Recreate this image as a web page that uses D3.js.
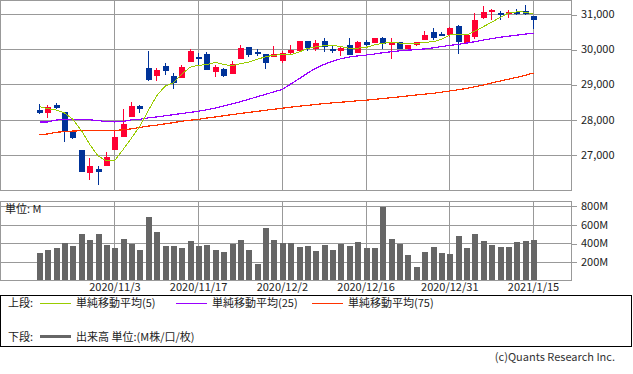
<!DOCTYPE html>
<html>
<head>
<meta charset="utf-8">
<script src="https://cdn.jsdelivr.net/npm/d3@7/dist/d3.min.js"></script>
<style>
    body { margin: 0; background: #fff; }
    text { font-family: "Noto Sans CJK JP", "Noto Sans", sans-serif; }
</style>
</head>
<body>
<div id="chart-container"></div>
<script>
// Trading days (one slot per candle)
var dates = ["2020/10/21","2020/10/22","2020/10/23","2020/10/26","2020/10/27","2020/10/28","2020/10/29","2020/10/30",
    "2020/11/2","2020/11/3","2020/11/4","2020/11/5","2020/11/6","2020/11/9","2020/11/10","2020/11/11","2020/11/12",
    "2020/11/13","2020/11/16","2020/11/17","2020/11/18","2020/11/19","2020/11/20","2020/11/23","2020/11/24","2020/11/25",
    "2020/11/27","2020/11/30","2020/12/1","2020/12/2","2020/12/3","2020/12/4","2020/12/7","2020/12/8","2020/12/9",
    "2020/12/10","2020/12/11","2020/12/14","2020/12/15","2020/12/16","2020/12/17","2020/12/18","2020/12/21","2020/12/22",
    "2020/12/23","2020/12/24","2020/12/28","2020/12/29","2020/12/30","2020/12/31","2021/1/4","2021/1/5","2021/1/6",
    "2021/1/7","2021/1/8","2021/1/11","2021/1/12","2021/1/13","2021/1/14","2021/1/15"];

var openP = [28282,28179,28423,28207,27671,27126,26487,26590,26684,27135,27502,28066,28382,29467,29238,29524,29229,29191,29648,29790,
    29867,29353,29438,29305,29724,30067,29933,29867,29790,29667,29886,29962,30228,30000,30228,30010,29952,30124,29905,30219,
    30181,30324,30133,30209,30019,30133,30276,30486,30438,30400,30657,30181,30362,30895,31076,31029,31009,31060,31095,30933];
var highP = [28451,28423,28460,28215,27718,27126,26900,26684,27069,27671,28310,28508,28429,29952,29476,29619,29324,29562,30000,29886,
    29933,29543,29476,29667,30124,30067,30010,29867,30095,29962,30133,30240,30228,30267,30324,30095,30060,30324,30238,30250,
    30333,30362,30333,30209,30133,30209,30524,30600,30495,30620,30695,30420,31029,31219,31143,31095,31114,31143,31247,30933];
var lowP = [28160,28038,28290,27361,27436,26515,26289,26148,26684,27135,27502,28066,28200,29096,29096,29257,28877,29191,29648,29553,
    29419,29219,29219,29305,29724,29791,29810,29448,29790,29600,29867,29962,29962,29962,29933,29886,29819,29848,29905,30100,
    30181,30019,29724,30000,30000,30086,30276,30276,30381,30362,29876,30162,30305,30857,30819,30828,30885,30981,30962,30581];
var closeP = [28197,28367,28320,27662,27474,26515,26684,26524,26947,27502,27868,28395,28296,29124,29410,29391,29048,29496,29952,29762,
    29419,29486,29248,29572,30029,29838,29905,29619,29867,29905,29981,30228,30048,30190,30057,29995,30048,29848,30209,30133,
    30324,30162,30200,30000,30133,30200,30419,30333,30419,30609,30219,30400,30838,31067,31124,31000,31067,31045,31000,30819];

// Moving averages (5, 25, 75 days)
var ma5 = [28367,28310,28273,28188,28009,27690,27295,26966,26830,26840,27154,27480,27820,28260,28680,28950,29050,29295,29490,29545,
    29565,29630,29565,29535,29590,29635,29715,29785,29835,29840,29840,29920,30020,30070,30100,30115,30073,30029,30032,30050,
    30128,30165,30205,30177,30170,30160,30200,30212,30280,30405,30407,30406,30512,30642,30768,30903,31028,31061,31058,30996];
var ma25 = [27935,27935,27990,28000,28000,28000,27995,27975,27940,27935,27950,27995,28010,28050,28076,28110,28140,28175,28205,28240,
    28280,28330,28390,28450,28510,28580,28650,28720,28790,28860,29010,29160,29320,29460,29570,29660,29730,29780,29810,29835,
    29865,29900,29930,29955,29975,29990,30010,30040,30075,30110,30140,30175,30215,30260,30300,30340,30370,30400,30430,30455];
var ma75 = [27565,27595,27640,27660,27675,27685,27688,27690,27690,27695,27710,27740,27780,27815,27845,27880,27915,27955,27985,28010,
    28045,28075,28110,28144,28175,28205,28235,28267,28295,28325,28355,28382,28405,28430,28455,28477,28495,28515,28535,28553,
    28575,28600,28625,28648,28675,28700,28725,28745,28780,28815,28850,28886,28935,28981,29040,29096,29150,29200,29260,29324];

// Volume in millions
var volume = [296,328,349,403,371,500,435,500,382,349,446,392,328,683,522,371,371,349,425,371,
    382,328,306,392,435,328,177,565,435,403,403,360,371,317,382,328,392,371,414,349,
    349,790,446,392,274,145,306,360,296,285,478,349,500,425,382,360,360,414,425,435];

var xTickLabels = ["2020/11/3","2020/11/17","2020/12/2","2020/12/16","2020/12/31","2021/1/15"];
var priceTicks = [27000, 28000, 29000, 30000, 31000];
var volumeTicks = [200, 400, 600, 800];

var legendItems = [
    {label: "単純移動平均(5)", color: "#99cc00"},
    {label: "単純移動平均(25)", color: "#9900ff"},
    {label: "単純移動平均(75)", color: "#ff3300"}
];

var upColor = "#ff0033",
    downColor = "#003399",
    gridColor = "#999999",
    textColor = "#222222";

createChart();

function createChart() {
    var width = 633, height = 374;
    var plotRight = 571;
    var price = {top: 0, bottom: 190};
    var vol = {top: 201, bottom: 280};

    var svg = d3.select("#chart-container")
        .append("svg")
        .attr("width", width)
        .attr("height", height)
        .style("display", "block");

    var data = dates.map(function(d, i) {
        return {date: d, open: openP[i], high: highP[i], low: lowP[i], close: closeP[i],
            volume: volume[i], ma5: ma5[i], ma25: ma25[i], ma75: ma75[i]};
    });

    // Scales
    var x = d3.scalePoint()
        .domain(dates)
        .range([39, 533]);

    var y = d3.scaleLinear()
        .domain([26000, 31400])
        .range([price.bottom, price.top]);

    var yVol = d3.scaleLinear()
        .domain([0, 852])
        .range([vol.bottom + 0.5, vol.top]);

    function px(v) { return Math.round(v) + 0.5; }

    // ---------- Grid + frames ----------
    var grid = svg.append("g")
        .attr("stroke", gridColor)
        .attr("stroke-width", 1)
        .attr("shape-rendering", "crispEdges");

    // horizontal grid lines, price
    grid.selectAll(".hgrid")
        .data(priceTicks)
        .enter().append("line")
        .attr("x1", 0).attr("x2", plotRight)
        .attr("y1", function(d) { return px(y(d)); })
        .attr("y2", function(d) { return px(y(d)); });

    // vertical grid lines (both panels)
    grid.selectAll(".vgrid")
        .data(xTickLabels)
        .enter().append("line")
        .attr("x1", function(d) { return px(x(d)); })
        .attr("x2", function(d) { return px(x(d)); })
        .attr("y1", price.top).attr("y2", price.bottom);

    grid.selectAll(".vgrid2")
        .data(xTickLabels)
        .enter().append("line")
        .attr("x1", function(d) { return px(x(d)); })
        .attr("x2", function(d) { return px(x(d)); })
        .attr("y1", vol.top).attr("y2", vol.bottom);

    // horizontal grid lines, volume
    grid.selectAll(".vhgrid")
        .data(volumeTicks)
        .enter().append("line")
        .attr("x1", 0).attr("x2", plotRight)
        .attr("y1", function(d) { return px(yVol(d)); })
        .attr("y2", function(d) { return px(yVol(d)); });

    // frames
    grid.append("rect")
        .attr("x", 0.5).attr("y", price.top + 0.5)
        .attr("width", plotRight).attr("height", price.bottom - price.top)
        .attr("fill", "none");
    grid.append("rect")
        .attr("x", 0.5).attr("y", vol.top + 0.5)
        .attr("width", plotRight).attr("height", vol.bottom - vol.top)
        .attr("fill", "none");

    // Right axis, price
    var yAxis = svg.append("g")
        .attr("transform", "translate(" + plotRight + ",0)")
        .call(d3.axisRight(y).tickValues(priceTicks).tickSize(6).tickPadding(4).tickFormat(d3.format(",")));
    yAxis.select(".domain").remove();

    // Right axis, volume
    var vAxis = svg.append("g")
        .attr("transform", "translate(" + plotRight + ",0)")
        .call(d3.axisRight(yVol).tickValues(volumeTicks).tickSize(6).tickPadding(4)
            .tickFormat(function(d) { return d + "M"; }));
    vAxis.select(".domain").remove();

    [yAxis, vAxis].forEach(function(ax) {
        ax.selectAll(".tick line")
            .attr("stroke", gridColor)
            .attr("shape-rendering", "crispEdges")
            .attr("transform", "translate(0,0.5)");
        ax.selectAll(".tick text")
            .attr("fill", textColor)
            .style("font-size", "11px")
            .style("font-family", "'Noto Sans CJK JP', sans-serif");
    });

    // Bottom date labels
    var xAxis = svg.append("g")
        .attr("transform", "translate(0," + vol.bottom + ")")
        .call(d3.axisBottom(x).tickValues(xTickLabels).tickSize(0).tickPadding(3));
    xAxis.select(".domain").remove();
    xAxis.selectAll(".tick text")
        .attr("fill", textColor)
        .style("font-size", "11px")
        .style("font-family", "'Noto Sans CJK JP', sans-serif");

    // ---------- Candles ----------
    var candles = svg.append("g").attr("shape-rendering", "crispEdges");

    candles.selectAll(".wick")
        .data(data)
        .enter().append("line")
        .attr("x1", function(d) { return px(x(d.date)); })
        .attr("x2", function(d) { return px(x(d.date)); })
        .attr("y1", function(d) { return Math.round(y(d.high)); })
        .attr("y2", function(d) { return Math.round(y(d.low)); })
        .attr("stroke", function(d) { return d.close >= d.open ? upColor : downColor; })
        .attr("stroke-width", 1);

    candles.selectAll(".body")
        .data(data)
        .enter().append("rect")
        .attr("x", function(d) { return Math.round(x(d.date)) - 2; })
        .attr("y", function(d) { return Math.round(y(Math.max(d.open, d.close))); })
        .attr("width", 6)
        .attr("height", function(d) {
            return Math.max(2, Math.round(y(Math.min(d.open, d.close))) - Math.round(y(Math.max(d.open, d.close))));
        })
        .attr("fill", function(d) { return d.close >= d.open ? upColor : downColor; });

    // Moving average lines
    var maLines = [
        {key: "ma75", color: "#ff3300", width: 1.2},
        {key: "ma25", color: "#9900ff", width: 1.2},
        {key: "ma5", color: "#99cc00", width: 1}
    ];

    maLines.forEach(function(m) {
        var line = d3.line()
            .x(function(d) { return x(d.date) + 0.5; })
            .y(function(d) { return y(d[m.key]); });
        svg.append("path")
            .datum(data)
            .attr("fill", "none")
            .attr("stroke", m.color)
            .attr("stroke-width", m.width)
            .attr("shape-rendering", "crispEdges")
            .attr("d", line);
    });

    // ---------- Volume bars ----------
    svg.append("g")
        .selectAll("rect")
        .data(data)
        .enter().append("rect")
        .attr("shape-rendering", "crispEdges")
        .attr("x", function(d) { return Math.round(x(d.date)) - 2; })
        .attr("y", function(d) { return Math.round(yVol(d.volume)); })
        .attr("width", 6)
        .attr("height", function(d) { return vol.bottom - Math.round(yVol(d.volume)); })
        .attr("fill", "#666666");

    svg.append("text")
        .attr("x", 5)
        .attr("y", 213)
        .attr("fill", textColor)
        .style("font-size", "11px")
        .text("単位: M");

    // ---------- Legend ----------
    var legend = svg.append("g");
    legend.append("rect")
        .attr("x", 0.5).attr("y", 295.5)
        .attr("width", 631).attr("height", 51)
        .attr("fill", "none")
        .attr("stroke", "#000")
        .attr("shape-rendering", "crispEdges");

    legend.append("text")
        .attr("x", 8).attr("y", 307)
        .attr("fill", textColor)
        .style("font-size", "11px")
        .text("上段:");

    legendItems.forEach(function(item, i) {
        var lx = 40 + i * 136;
        legend.append("line")
            .attr("x1", lx).attr("x2", lx + 31)
            .attr("y1", 303.5).attr("y2", 303.5)
            .attr("stroke", item.color)
            .attr("stroke-width", 1)
            .attr("shape-rendering", "crispEdges");
        legend.append("text")
            .attr("x", lx + 36).attr("y", 307)
            .attr("fill", textColor)
            .style("font-size", "11px")
            .text(item.label);
    });

    legend.append("text")
        .attr("x", 8).attr("y", 340.5)
        .attr("fill", textColor)
        .style("font-size", "11px")
        .text("下段:");
    legend.append("line")
        .attr("x1", 40).attr("x2", 71)
        .attr("y1", 336.5).attr("y2", 336.5)
        .attr("stroke", "#666666")
        .attr("stroke-width", 3);
    legend.append("text")
        .attr("x", 76).attr("y", 340.5)
        .attr("fill", textColor)
        .style("font-size", "11px")
        .text("出来高 単位:(M株/口/枚)");

    // Copyright
    svg.append("text")
        .attr("x", 615).attr("y", 360.5)
        .attr("text-anchor", "end")
        .attr("fill", "#333")
        .style("font-size", "11px")
        .text("(c)Quants Research Inc.");
}
</script>
</body>
</html>
